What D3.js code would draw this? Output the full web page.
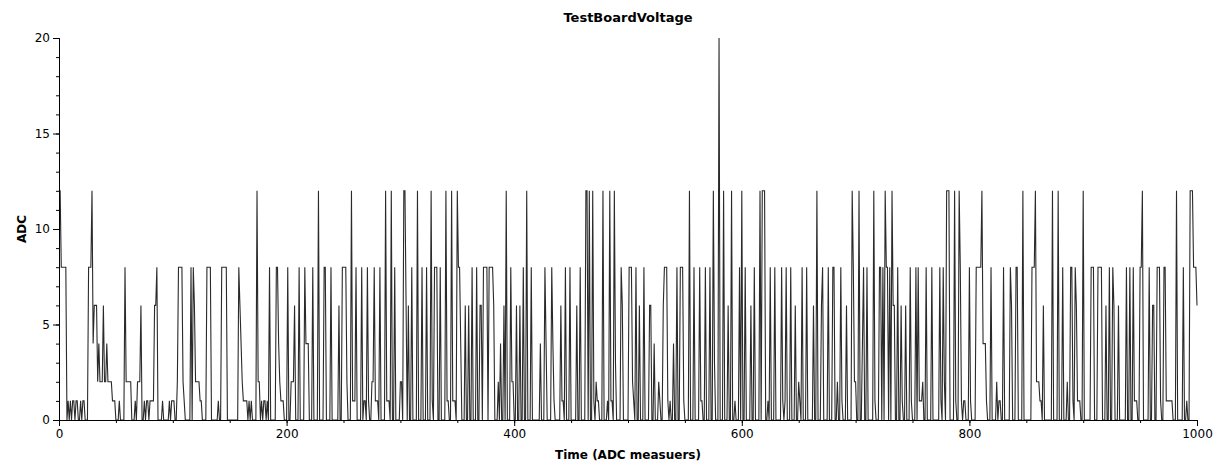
<!DOCTYPE html>
<html><head><meta charset="utf-8">
<script src="https://cdn.jsdelivr.net/npm/d3@7"></script>
<style>
html,body{margin:0;padding:0;background:#fff;}
text{font-family:"DejaVu Sans",Verdana,sans-serif;}
</style></head>
<body><svg id="chart" width="1230" height="470"></svg>
<script>
const title = "TestBoardVoltage";
const xLabel = "Time (ADC measuers)";
const yLabel = "ADC";
const xTicks = [0, 200, 400, 600, 800, 1000];
const yTicks = [0, 5, 10, 15, 20];
const xDomain = [0, 1000];
const yDomain = [0, 20];
const adc = [
12,12,8,8,8,8,8,0,1,0, 1,0,1,1,0,1,1,0,0,1, 0,1,1,0,0,0,8,8,8,12, 4,6,6,6,2,4,2,2,2,6, 2,2,4,2,2,2,2,1,1,1,
0,0,0,1,0,0,0,0,8,2, 2,2,2,2,0,0,0,1,0,2, 2,2,6,0,0,1,0,1,1,0, 1,1,1,1,6,6,8,0,0,0, 0,1,0,0,0,0,0,1,0,1,
1,1,0,0,2,8,8,8,8,2, 1,0,0,0,0,0,8,0,8,6, 2,2,2,2,1,1,0,0,0,0, 8,8,8,8,0,0,0,0,0,0, 1,0,0,8,8,8,8,8,0,0,
0,0,0,0,0,0,0,0,8,6, 4,2,1,1,1,1,0,1,0,1, 0,0,0,0,12,2,2,0,1,0, 1,1,0,1,0,8,0,0,0,0, 0,8,8,4,2,1,1,1,0,0,
0,8,0,0,2,2,2,6,0,0, 0,8,0,0,0,0,8,4,4,4, 0,0,0,8,0,0,0,0,12,0, 0,0,0,8,8,0,0,0,0,8, 0,0,0,0,0,0,6,0,0,8,
8,8,8,2,0,0,0,12,1,1, 1,8,0,0,0,0,8,0,1,1, 0,8,1,0,0,2,2,8,1,1, 1,0,8,0,0,0,0,12,1,1, 1,0,12,0,0,8,0,0,0,0,
2,2,0,12,12,6,0,6,0,0, 8,0,0,0,0,12,0,0,0,8, 0,0,0,8,0,0,0,12,1,0, 8,8,8,0,0,8,0,0,0,0, 12,1,1,0,0,12,1,1,1,0,
12,8,8,4,0,0,0,6,0,0, 6,0,0,8,0,0,0,8,0,0, 6,6,0,8,8,8,8,0,8,8, 8,8,6,0,0,0,2,0,4,0, 0,6,0,12,0,0,0,8,2,2,
0,0,6,0,0,6,0,0,8,0, 0,12,0,0,0,8,0,0,0,0, 0,0,0,4,0,0,0,8,4,0, 0,0,0,8,4,1,0,0,0,0, 0,6,1,1,0,8,0,0,0,8,
0,0,0,0,0,6,0,0,8,0, 0,0,0,12,12,0,12,0,0,12, 1,0,2,1,1,0,0,0,12,0, 0,0,1,0,12,1,1,0,12,3, 0,0,0,0,8,6,0,0,0,0,
0,8,8,8,2,1,0,8,0,0, 6,0,0,0,8,0,0,0,0,6, 6,0,0,4,0,0,0,2,1,0, 0,6,8,8,8,1,0,1,0,0, 4,0,0,8,0,0,8,8,8,1,
0,0,0,0,12,0,0,0,8,0, 0,0,0,8,1,1,0,0,8,0, 0,0,8,0,0,12,3,0,0,0, 20,0,0,0,12,0,0,0,6,0, 0,12,0,0,1,0,0,0,8,0,
12,0,0,8,0,0,0,0,6,0, 0,8,0,0,0,0,12,0,12,12, 12,0,0,1,0,8,0,0,0,8, 0,0,0,0,0,8,1,0,1,8, 0,0,0,8,0,0,0,6,0,0,
2,1,0,8,0,0,0,8,0,0, 0,0,0,6,0,0,12,0,0,0, 6,8,0,0,0,0,8,0,0,0, 8,8,0,0,2,0,0,8,1,0, 0,0,6,0,0,0,0,12,8,2,
2,0,0,12,0,0,4,8,0,0, 8,0,0,0,0,0,12,1,0,0, 0,8,8,0,8,0,12,8,8,0, 8,0,12,6,6,0,0,8,0,0, 6,1,0,0,6,0,0,0,8,1,
0,0,0,8,0,8,1,1,1,2, 0,0,8,0,0,0,0,8,0,0, 0,0,0,0,8,1,0,8,2,0, 12,12,12,0,0,0,0,12,1,0, 0,12,8,1,0,1,1,0,0,0,
8,1,0,0,0,0,8,8,8,8, 8,12,4,4,4,1,0,0,0,8, 0,0,0,0,2,0,1,1,0,0, 8,0,0,0,0,0,8,6,0,0, 0,8,8,0,0,0,0,12,0,0,
0,0,0,0,0,8,8,8,12,2, 2,2,1,1,0,6,0,0,0,0, 0,0,0,12,0,0,0,0,12,0, 0,0,8,0,0,0,2,0,0,8, 8,1,0,8,6,1,1,1,0,0,
12,0,0,0,0,0,0,8,8,8, 0,0,0,8,8,8,8,0,0,0, 6,0,0,8,0,0,8,6,0,0, 0,6,0,0,0,0,0,0,8,0, 0,8,0,0,8,1,1,1,0,0,
8,8,12,0,0,0,0,0,8,0, 0,6,6,0,0,8,8,8,1,0, 0,8,8,1,1,1,1,1,1,0, 0,0,12,0,0,0,0,0,8,0, 0,1,0,0,12,12,12,8,8,8,
6
];

const svg = d3.select("#chart");
const margin = {left: 59, right: 33, top: 38, bottom: 50};
const W = 1230, H = 470;
const x = d3.scaleLinear().domain(xDomain).range([margin.left, W - margin.right]);
const y = d3.scaleLinear().domain(yDomain).range([H - margin.bottom, margin.top]);

const xMinor = d3.range(0, 1001, 50);
const yMinor = d3.range(0, 21, 1);

const line = d3.line().x((d, i) => x(i)).y(d => y(d));
svg.append("path").datum(adc)
  .attr("d", line)
  .attr("fill", "none")
  .attr("stroke", "#2a2a2a")
  .attr("stroke-width", 1.1);

const xAxisG = svg.append("g").attr("transform", `translate(0,${y(0)})`);
xAxisG.call(d3.axisBottom(x).tickValues(xMinor).tickSize(3).tickFormat(""));
xAxisG.append("g").call(d3.axisBottom(x).tickValues(xTicks).tickSize(6).tickFormat(d3.format("d")));
const yAxisG = svg.append("g").attr("transform", `translate(${x(0)},0)`);
yAxisG.call(d3.axisLeft(y).tickValues(yMinor).tickSize(3).tickFormat(""));
yAxisG.append("g").call(d3.axisLeft(y).tickValues(yTicks).tickSize(6).tickFormat(d3.format("d")));
svg.selectAll(".domain").attr("stroke", "#000");
svg.selectAll(".tick line").attr("stroke", "#000");
svg.selectAll(".tick text").attr("font-size", 12).attr("fill", "#000").attr("font-family", "'DejaVu Sans', Verdana, sans-serif");

svg.append("text").attr("x", 628).attr("y", 22).attr("text-anchor", "middle")
  .attr("font-size", 13).attr("font-weight", "bold").text(title);
svg.append("text").attr("x", 628).attr("y", 459).attr("text-anchor", "middle")
  .attr("font-size", 12).attr("font-weight", "bold").text(xLabel);
svg.append("text").attr("transform", `translate(26,${(y(0)+y(20))/2}) rotate(-90)`).attr("text-anchor", "middle")
  .attr("font-size", 12).attr("font-weight", "bold").text(yLabel);
</script></body></html>
